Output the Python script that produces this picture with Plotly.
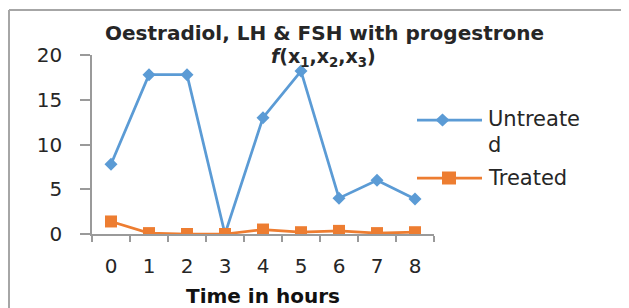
import plotly.graph_objects as go

hours = ["0", "1", "2", "3", "4", "5", "6", "7", "8"]
untreated = [7.8, 17.8, 17.8, 0.0, 13.0, 18.2, 4.0, 6.0, 3.9]
treated = [1.4, 0.1, 0.0, 0.0, 0.5, 0.2, 0.35, 0.1, 0.2]
y_ticks = [0, 5, 10, 15, 20]
series_names = ["Untreate", "d", "Treated"]

# page is shown with an 8px body margin -> figure is 8px smaller
OFF = 8
W, H = 629, 308
L, R, T, B = 92, 434, 55, 234  # plot area in page pixels


def px(x):
    return (x - L) / (R - L)


def py(y):
    return (B - y) / (B - T)


BLUE = "#5b9bd5"
ORANGE = "#ed7d31"
AXIS = "#9a9a9a"
TXT = "#262626"
FONT = "DejaVu Sans"

fig = go.Figure()
fig.add_trace(go.Scatter(
    x=hours, y=untreated, name="Untreated", mode="lines+markers",
    line=dict(color=BLUE, width=2.75),
    marker=dict(symbol="diamond", size=10, color=BLUE),
))
fig.add_trace(go.Scatter(
    x=hours, y=treated, name="Treated", mode="lines+markers",
    line=dict(color=ORANGE, width=2.75),
    marker=dict(symbol="square", size=12, color=ORANGE),
))

fig.update_layout(
    width=W - OFF, height=H - OFF, autosize=False,
    margin=dict(l=L - OFF, r=W - R, t=T - OFF, b=H - B, pad=0),
    paper_bgcolor="white", plot_bgcolor="white",
    font=dict(family=FONT, size=19, color=TXT),
    showlegend=False,
    xaxis=dict(
        type="category", range=[-0.5, 8.5], tickson="boundaries",
        ticks="outside", ticklen=6, tickcolor=AXIS, tickwidth=1.5,
        showline=True, linecolor=AXIS, linewidth=1.5, showgrid=False,
        zeroline=False, ticklabelstandoff=13,
        tickfont=dict(family=FONT, size=20, color=TXT),
    ),
    yaxis=dict(
        range=[0, 20], tickvals=y_ticks, ticks="outside", ticklen=10,
        tickcolor=AXIS, tickwidth=1.5, showline=True, linecolor=AXIS,
        linewidth=1.5, showgrid=False, zeroline=False, ticklabelstandoff=14,
        tickfont=dict(family=FONT, size=20, color=TXT),
    ),
)

# frame lines
fig.add_shape(type="line", xref="paper", yref="paper",
              x0=px(9), x1=px(W + 20), y0=py(10), y1=py(10),
              line=dict(color="#a6a6a6", width=2))
fig.add_shape(type="line", xref="paper", yref="paper",
              x0=px(9), x1=px(9), y0=py(10), y1=py(H + 20),
              line=dict(color="#a6a6a6", width=2))

# legend (drawn by hand to match the long symbol lines)
for yc, color in [(120, BLUE), (178, ORANGE)]:
    fig.add_shape(type="line", xref="paper", yref="paper",
                  x0=px(417), x1=px(482), y0=py(yc), y1=py(yc),
                  line=dict(color=color, width=2.75))
fig.add_shape(type="path", xref="paper", yref="paper",
              path="M {} {} L {} {} L {} {} L {} {} Z".format(
                  px(442.5), py(113.5), px(449.5), py(120),
                  px(442.5), py(126.5), px(435.5), py(120)),
              line=dict(color=BLUE, width=0), fillcolor=BLUE)
fig.add_shape(type="rect", xref="paper", yref="paper",
              x0=px(442), x1=px(456), y0=py(171.5), y1=py(184.5),
              line=dict(color=ORANGE, width=0), fillcolor=ORANGE)
for text, yc in zip(series_names, [119, 145, 178]):
    fig.add_annotation(
        text=text, xref="paper", yref="paper", x=px(487), y=py(yc),
        xanchor="left", yanchor="middle", showarrow=False, borderpad=0,
        font=dict(family=FONT, size=21, color=TXT),
    )

fig.add_annotation(
    text="<b>Oestradiol, LH &amp; FSH with progestrone</b>",
    xref="paper", yref="paper", x=px(324), y=py(33),
    xanchor="center", yanchor="middle", showarrow=False,
    font=dict(family=FONT, size=20, color=TXT),
)
fig.add_annotation(
    text="<b><i>f</i>(x<sub>1</sub>,x<sub>2</sub>,x<sub>3</sub>)</b>",
    xref="paper", yref="paper", x=px(323), y=py(57),
    xanchor="center", yanchor="middle", showarrow=False,
    font=dict(family=FONT, size=19, color=TXT),
)
fig.add_annotation(
    text="<b>Time in hours</b>",
    xref="paper", yref="paper", x=px(263), y=py(296),
    xanchor="center", yanchor="middle", showarrow=False, borderpad=0,
    font=dict(family=FONT, size=20, color="#111111"),
)

fig.write_html("out.html")
